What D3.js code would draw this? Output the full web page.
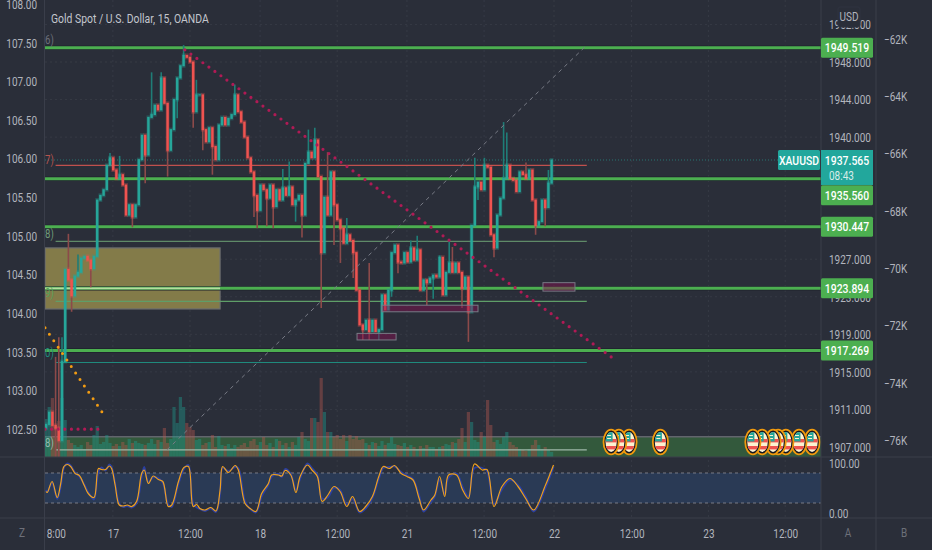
<!DOCTYPE html>
<html>
<head>
<meta charset="utf-8">
<script src="https://cdn.jsdelivr.net/npm/d3@7"></script>
<style>
html,body{margin:0;padding:0;background:#2a2e39}
svg{display:block}
text{font-family:Roboto,"Liberation Sans",sans-serif}
</style>
</head>
<body>
<svg id="chart" width="932" height="550"></svg>
<script>
// gold closes, one per 30 min
const closes = [1909.4,1910.7,1909.3,1909.0,1907.7,1916.1,1925.9,1924.8,1923.1,1925.2,1925.6,1927.1,1927.3,1926.9,1926.0,1927.3,1933.3,1933.8,1934.4,1937.0,
1937.8,1936.5,1935.6,1936.0,1934.9,1931.7,1932.8,1931.5,1932.8,1937.6,1940.2,1938.1,1942.1,1942.4,1943.4,1942.9,1946.3,1943.6,1938.6,1940.8,
1944.0,1946.3,1947.6,1948.7,1948.5,1948.0,1942.7,1944.5,1944.5,1940.8,1939.5,1941.0,1939.0,1937.6,1941.3,1942.1,1941.3,1942.0,1942.4,1944.5,
1942.7,1941.6,1940.0,1937.8,1936.3,1933.8,1932.2,1934.9,1934.4,1933.5,1934.9,1932.6,1934.4,1933.3,1934.6,1933.8,1934.7,1932.8,1933.3,1933.8,
1931.7,1937.2,1938.4,1937.8,1939.7,1935.8,1927.7,1933.6,1931.7,1936.3,1932.8,1931.2,1930.3,1928.7,1929.6,1929.0,1927.7,1923.7,1920.0,1919.5,
1920.5,1919.3,1920.5,1919.3,1919.5,1923.2,1921.6,1923.7,1927.7,1928.5,1926.7,1926.6,1927.7,1926.7,1928.2,1926.9,1928.0,1923.7,1924.8,1924.5,
1925.0,1925.3,1925.1,1927.2,1923.2,1925.6,1926.6,1925.6,1926.6,1925.6,1923.9,1925.1,1921.4,1930.6,1934.7,1935.2,1934.4,1937.0,1936.8,1929.6,
1928.2,1931.7,1933.5,1935.6,1937.0,1935.6,1935.4,1934.2,1936.3,1936.0,1935.6,1936.5,1933.3,1930.6,1931.0,1933.3,1932.5,1935.1,1937.565]
const wickBars = [3,3,4,4,5,7,8,20,27,31,33,36,38,46,47,49,52,59,66,71,76,80,82,84,86,88,92,94,99,101,101,104,110,114,119,123,126,130,132,134,135,137,140,143,144,153,10,14,23,41,43,60,65,69,74,78,90,96,108,116,121,127,145,150,156,157]
const wickEnds = [1916.6,1905.9,1918.7,1905.9,1918.7,1929.7,1921.4,1938.3,1930.4,1935.1,1946.9,1946.9,1935.8,1941.0,1946.1,1938.6,1936.0,1945.6,1930.3,1930.3,1937.4,1929.3,1940.8,1941.0,1921.8,1938.4,1926.6,1931.4,1918.4,1926.6,1918.4,1918.4,1925.5,1929.0,1922.1,1927.4,1929.0,1921.8,1918.2,1937.8,1933.3,1937.8,1927.2,1941.6,1940.5,1929.6,1927.5,1924,1938,1942,1949.8,1944.5,1931.5,1930.5,1936.6,1931,1928.5,1925,1923,1929.5,1922.8,1928.3,1936.7,1937.3,1930.5,1936.5]
const volumes = [38,50,59,30,36,59,37,17,14,12,10,12,8,15,12,22,31,13,15,22,14,11,13,11,15,12,18,14,16,14,13,12,14,18,13,17,15,29,14,18,
50,34,60,50,34,30,27,17,18,12,14,15,22,10,21,12,11,13,9,12,10,12,14,10,16,18,12,15,20,12,14,10,18,16,12,14,10,15,12,20,
25,18,16,39,39,35,79,45,25,25,20,22,18,22,16,22,18,21,17,18,14,12,15,14,11,16,12,14,20,13,12,11,14,10,12,10,8,11,9,12,
10,10,8,10,11,13,12,15,14,18,29,15,45,35,17,15,25,20,57,32,15,17,13,20,25,15,12,10,8,7,6,8,12,17,12,8,10,7,5]

const stochBars = [0,.4,1.9,3.5,4.6,5.6,6.7,7.7,9.1,10.4,11.9,13.2,15,16.4,17.4,18.6,19.8,20.5,21.6,22.9,24.2,25.4,26.8,28.3,29.9,30.7,32,33.5,35.1,36.5,38.2,39.3,41.4,43.1,44.5,46,47.1,48.1,49.7,51.5,53.1,54.4,55.2,57,59.1,60.1,62.2,63.8,65.6,67.4,69.5,70.5,72.6,73.7,74.7,76.5,78.1,79.4,81.7,83.1,84.8,86.3,88.1,90,91.9,94,95.8,98,99.9,102,104,105.4,107.3,108.9,111,112.8,114.7,116.6,118,120.3,121.5,123,124.6,125.8,128.3,130.2,132,133.9,136.3,137.8,140,142.5,145,147.5,149.9,152.4,156.1,158.6]
const stochK = [43,41,63,31,59,93,97,93,79,75,56,39,31,89,87,87,94,89,56,16,14,16,13,23,79,86,59,74,67,63,13,16,63,91,93,13,17,9,6,11,4,46,93,81,95,86,19,9,3,39,59,76,76,74,85,76,41,73,96,86,73,23,36,53,43,13,33,3,13,33,73,93,89,95,79,73,66,29,6,26,36,73,33,76,76,46,29,98,86,87,13,53,69,53,29,6,56,96]
const stochD = [46,42,60,28,52,90,99,95,81,73,58,42,27,82,91,85,97,92,60,19,12,14,11,19,72,92,62,71,70,60,17,12,58,88,96,18,11,8,4,9,2,38,90,84,92,90,24,8,1,33,56,72,78,72,88,78,46,68,99,90,76,29,31,50,46,17,28,1,9,30,68,90,92,93,82,75,68,35,3,22,33,66,38,70,79,52,33,90,90,84,18,47,66,56,33,3,50,92]
const stochTicks = [0,100]
const stochBand = [20,80]

const leftTicks = [108,107.5,107,106.5,106,105.5,105,104.5,104,103.5,103,102.5]
const goldTicks = [1907,1911,1915,1919,1923,1927,1940,1944,1948,1952]
const thirdTicks = [-62,-64,-66,-68,-70,-72,-74,-76]
const timeBars = [2.2,20.9,45,66.9,91,112.8,136.9,158.75,183,207,231]
const timeLabels = ['18:00','17','12:00','18','12:00','21','12:00','22','12:00','23','12:00']

const levels = [1949.519,1935.56,1930.447,1923.894,1917.269]
const lastPrice = 1937.565
const thinPrices = [1937.0,1928.9,1922.5,1916.0,1906.7]
const thinColors = ['#c0504d','#5f8a68','#5f9e68','#1f8a7d','#9fb8a8']
const yellowBox = [-.3,54.4,1928.2,1921.7]
const zoneBoxes = [[97.2,109.4,1919.1,1918.4],[105,135,1922.1,1921.4],[155.3,165.3,1924.5,1923.6]]
const bandPrice = 1908.1
const crimsonLine = [[43.4,1949.3],[177.8,1916.3]]
const orangeLine = [[-.3,1919.7],[18.75,1910.1]]
const crimsonFlat = [[-.3,1908.9],[17.8,1908.9]]
const greyLine = [[37.8,1906.7],[168.4,1949.6]]
const flagBars = [176.6,179,182.2,192,220.9,223.8,227.2,228.8,231.2,235.3,239.4]
const edgeNotes = ['6)','7)','8)','9)','0)','8)']
const edgeNotePrices = [1950.3,1937.6,1929.7,1923.4,1917.0,1907.4]
const edgeNoteColors = ['#6d7079','#b5544f','#6f9a78','#55a05a','#1f8a7d','#8fb8b0']

const svg = d3.select('#chart')
const W = 932, H = 550, paneL = 45, paneR = 821, axis2 = 876, priceB = 457, stochB = 518
const textCol = '#b2b5be', sepCol = '#3a3e4a', gridCol = '#363a45', up = '#26a69a', down = '#ef5350'
const squeeze = .8

const x = d3.scaleLinear().domain([0,240]).range([46,814])
const gold = d3.scaleLinear().domain([1907,1948]).range([447,62])
const left = d3.scaleLinear().domain([102.5,108]).range([429,4])
const third = d3.scaleLinear().domain([-76,-62]).range([440,39])
const stoch = d3.scaleLinear().domain([0,100]).range([513,463])
const vol = d3.scaleLinear().domain([0,80]).range([priceB,priceB-80])

svg.append('rect').attr('width',W).attr('height',H).attr('fill','#2a2e39')
const defs = svg.append('defs')
defs.append('clipPath').attr('id','pane').append('rect').attr('x',paneL).attr('y',0).attr('width',paneR-paneL).attr('height',priceB)
defs.append('clipPath').attr('id','timeClip').append('rect').attr('x',paneL).attr('y',stochB).attr('width',W).attr('height',H-stochB)
defs.append('clipPath').attr('id','flagClip').append('ellipse').attr('rx',5.6).attr('ry',10)

// grid
const grid = svg.append('g').attr('stroke',gridCol).attr('stroke-dasharray','2,3')
grid.selectAll('.v').data(timeBars.slice(1)).enter().append('line').attr('x1',d => x(d)).attr('x2',d => x(d)).attr('y1',0).attr('y2',stochB)
grid.selectAll('.h').data(goldTicks).enter().append('line').attr('x1',paneL).attr('x2',paneR).attr('y1',d => gold(d)).attr('y2',d => gold(d))

const pane = svg.append('g').attr('clip-path','url(#pane)')

// green band at the bottom of the price pane and the yellow box
pane.append('rect').attr('x',paneL).attr('width',paneR-paneL).attr('y',gold(bandPrice)).attr('height',priceB-gold(bandPrice)).attr('fill','#33593c')
pane.append('line').attr('x1',paneL).attr('x2',paneR).attr('y1',gold(bandPrice)).attr('y2',gold(bandPrice)).attr('stroke','#62656d').attr('stroke-width',1.5)
pane.append('rect').attr('x',x(yellowBox[0])).attr('width',x(yellowBox[1])-x(yellowBox[0])).attr('y',gold(yellowBox[2])).attr('height',gold(yellowBox[3])-gold(yellowBox[2]))
  .attr('fill','#837b49').attr('stroke','#6b6d70').attr('stroke-width',1.2)

// volume
pane.selectAll('.vol').data(volumes).enter().append('rect')
  .attr('x',(d,i) => x(i)-1.6).attr('width',3.2).attr('y',d => vol(d)).attr('height',d => priceB-vol(d))
  .attr('fill',(d,i) => closes[i] >= (i ? closes[i-1] : closes[0]) ? '#1f9a8c' : '#b5584f').attr('opacity',.42)

// thin lines that stop at the end of the tool
pane.selectAll('.thin').data(thinPrices).enter().append('line')
  .attr('x1',x(3)).attr('x2',x(169)).attr('y1',d => gold(d)).attr('y2',d => gold(d))
  .attr('stroke',(d,i) => thinColors[i]).attr('stroke-width',1.2)

// levels
pane.selectAll('.levelEdge').data(levels).enter().append('line')
  .attr('x1',paneL).attr('x2',paneR).attr('y1',d => gold(d)).attr('y2',d => gold(d))
  .attr('stroke','#1e222d').attr('stroke-width',4.4)
pane.selectAll('.level').data(levels).enter().append('line')
  .attr('x1',paneL).attr('x2',paneR).attr('y1',d => gold(d)).attr('y2',d => gold(d))
  .attr('stroke','#4caf50').attr('stroke-width',3)
pane.append('line').attr('x1',x(yellowBox[0])).attr('x2',x(yellowBox[1])).attr('y1',gold(levels[3])).attr('y2',gold(levels[3])).attr('stroke','#b5dca0').attr('stroke-width',1.6)
pane.append('line').attr('x1',paneL).attr('x2',paneR).attr('y1',gold(lastPrice)).attr('y2',gold(lastPrice)).attr('stroke',up).attr('stroke-opacity',.6).attr('stroke-dasharray','1,2')

// candles, with a dim wider copy behind the bodies
pane.selectAll('.wick').data(wickBars).enter().append('line')
  .attr('x1',d => x(d)).attr('x2',d => x(d))
  .attr('y1',(d,i) => gold(wickEnds[i])).attr('y2',d => gold(closes[d]))
  .attr('stroke',(d,i) => closes[d] >= closes[Math.max(d-1,0)] ? '#1f7d77' : '#8c4a4a').attr('stroke-width',1.6)
pane.selectAll('.shade').data(closes).enter().append('rect')
  .attr('x',(d,i) => x(i)-1.9).attr('width',3.8)
  .attr('y',(d,i) => gold(Math.max(d,i ? closes[i-1] : 1909))-2)
  .attr('height',(d,i) => Math.abs(gold(d)-gold(i ? closes[i-1] : 1909))+4)
  .attr('fill',(d,i) => d >= (i ? closes[i-1] : 1909) ? up : down).attr('opacity',.3)
pane.selectAll('.body').data(closes).enter().append('rect')
  .attr('x',(d,i) => x(i)-1.2).attr('width',2.4)
  .attr('y',(d,i) => gold(Math.max(d,i ? closes[i-1] : 1909))-.5)
  .attr('height',(d,i) => Math.abs(gold(d)-gold(i ? closes[i-1] : 1909))+1)
  .attr('fill',(d,i) => d >= (i ? closes[i-1] : 1909) ? up : down)

// zones and drawn trend lines
pane.selectAll('.zone').data(zoneBoxes).enter().append('rect')
  .attr('x',d => x(d[0])).attr('width',d => x(d[1])-x(d[0])).attr('y',d => gold(d[2])).attr('height',d => gold(d[3])-gold(d[2]))
  .attr('fill','#880e4f').attr('fill-opacity',.45).attr('stroke','#787b86').attr('stroke-width',1)
const trend = d3.line().x(d => x(d[0])).y(d => gold(d[1]))
pane.append('path').attr('d',trend(greyLine)).attr('fill','none').attr('stroke','#787b86').attr('stroke-dasharray','4,4')
const dotted = (pts, col, w, gap) => pane.append('path').attr('d',trend(pts)).attr('fill','none').attr('stroke',col)
  .attr('stroke-width',w).attr('stroke-linecap','round').attr('stroke-dasharray',`0,${gap}`)
dotted(crimsonLine,'#b01a55',3.2,7.4)
dotted(crimsonFlat,'#b01a55',3.2,6.6)
dotted(orangeLine,'#f39c12',3,7.8)

// notes left on the pane edge
edgeNotes.forEach((t,i) => pane.append('text').attr('transform',`translate(45,${gold(edgeNotePrices[i])+4}) scale(${squeeze},1)`).attr('font-size',12).attr('fill',edgeNoteColors[i]).text(t))

// flags of the economic events
flagBars.slice().reverse().forEach(b => {
  const f = svg.append('g').attr('transform',`translate(${x(b)},442)`)
  f.append('ellipse').attr('rx',7.6).attr('ry',12.4).attr('fill','#131722').attr('stroke','#f09a0e').attr('stroke-width',1.8)
  const c = f.append('g').attr('clip-path','url(#flagClip)')
  c.append('rect').attr('x',-6).attr('y',-10).attr('width',12).attr('height',20).attr('fill','#fdf2d0')
  ;[-3,4].forEach(y => c.append('rect').attr('x',-6).attr('y',y).attr('width',12).attr('height',3.4).attr('fill','#ef5350'))
  c.append('rect').attr('x',-6).attr('y',-10).attr('width',7.5).attr('height',9.5).attr('fill','#26a69a')
  ;[-7,-4].forEach(y => c.append('rect').attr('x',-4).attr('y',y).attr('width',4).attr('height',1).attr('fill','#fdf2d0'))
})

// stochastic pane
svg.append('rect').attr('x',paneL).attr('width',paneR-paneL).attr('y',stoch(stochBand[1])).attr('height',stoch(stochBand[0])-stoch(stochBand[1])).attr('fill','#2a3a55')
svg.selectAll('.bandLine').data(stochBand).enter().append('line').attr('x1',paneL).attr('x2',paneR).attr('y1',d => stoch(d)).attr('y2',d => stoch(d)).attr('stroke','#787b86').attr('stroke-dasharray','3,3')
const stochLine = v => d3.line().x((d,i) => x(d)).y((d,i) => stoch(v[i])).curve(d3.curveCatmullRom)(stochBars)
svg.append('path').attr('d',stochLine(stochD)).attr('fill','none').attr('stroke','#2a3fa0').attr('stroke-width',1.8)
svg.append('path').attr('d',stochLine(stochK)).attr('fill','none').attr('stroke','#f0a01e').attr('stroke-width',1.2)

// separators
const seps = svg.append('g').attr('stroke',sepCol)
seps.append('line').attr('x1',paneL-.5).attr('x2',paneL-.5).attr('y1',0).attr('y2',H)
seps.append('line').attr('x1',paneR).attr('x2',paneR).attr('y1',0).attr('y2',H)
seps.append('line').attr('x1',axis2).attr('x2',axis2).attr('y1',0).attr('y2',H)
seps.append('line').attr('x1',0).attr('x2',W).attr('y1',priceB).attr('y2',priceB)
seps.append('line').attr('x1',0).attr('x2',W).attr('y1',stochB).attr('y2',stochB)

// axes, the narrow glyphs are a horizontal squeeze on the tick text
function styleAxis(g, dx, dy) {
  g.select('.domain').remove()
  g.selectAll('line').remove()
  g.selectAll('text').attr('x',0).attr('y',0).attr('dy','.35em').attr('transform',`translate(${dx},${dy}) scale(${squeeze},1)`)
    .attr('fill',textCol).attr('font-size',12.5).attr('font-family','Roboto')
}
svg.append('g').attr('transform',`translate(${paneL},0)`).call(d3.axisLeft(left).tickValues(leftTicks).tickFormat(d3.format('.2f'))).call(styleAxis,-8,0)
svg.append('g').attr('transform',`translate(${paneR},0)`).call(d3.axisRight(gold).tickValues(goldTicks).tickFormat(d3.format('.3f'))).call(styleAxis,8,0)
svg.append('g').attr('transform',`translate(${axis2},0)`).call(d3.axisRight(third).tickValues(thirdTicks).tickFormat(d => '\u2212'+Math.abs(d)+'K')).call(styleAxis,8,0)
svg.append('g').attr('transform',`translate(${paneR},0)`).call(d3.axisRight(stoch).tickValues(stochTicks).tickFormat(d3.format('.2f'))).call(styleAxis,8,0)
svg.append('g').attr('clip-path','url(#timeClip)').append('g').attr('transform',`translate(0,${stochB})`)
  .call(d3.axisBottom(x).tickValues(timeBars).tickFormat((d,i) => timeLabels[i])).call(styleAxis,0,16)

function label(tx, ty, str, anchor, fill, size) {
  return svg.append('text').attr('transform',`translate(${tx},${ty}) scale(${squeeze},1)`).attr('text-anchor',anchor).attr('dy','.35em')
    .attr('fill',fill).attr('font-size',size).text(str)
}
label(51,18,'Gold Spot / U.S. Dollar, 15, OANDA','start','#c3c6ce',13)
label(22,533,'Z','middle','#6d7079',12.5)
label(848,533,'A','middle','#6d7079',12.5)
label(904,533,'B','middle','#6d7079',12.5)

// price tags
svg.append('rect').attr('x',838).attr('y',7).attr('width',22).attr('height',20).attr('rx',2).attr('fill','#2a2e39').attr('stroke','#2f3340')
label(849,17,'USD','middle',textCol,12.5)
const tagH = 20
levels.forEach(l => {
  const cy = l === 1935.56 ? gold(l)+16.5 : gold(l)
  svg.append('rect').attr('x',paneR).attr('y',cy-tagH/2).attr('width',52).attr('height',tagH).attr('rx',1.5).attr('fill','#4caf50')
  label(paneR+26,cy,d3.format('.3f')(l),'middle','#ffffff',13).attr('font-weight',500)
})
svg.append('rect').attr('x',778).attr('y',gold(lastPrice)-10).attr('width',42).attr('height',20).attr('rx',1.5).attr('fill','#22a79c')
label(799,gold(lastPrice),'XAUUSD','middle','#ffffff',13).attr('font-weight',500)
svg.append('rect').attr('x',paneR).attr('y',gold(lastPrice)-10).attr('width',52).attr('height',35).attr('fill','#22a79c')
label(paneR+26,gold(lastPrice),d3.format('.3f')(lastPrice),'middle','#ffffff',13).attr('font-weight',500)
label(paneR+8,gold(lastPrice)+16,'08:43','start','#d6ece9',12.5)
</script>
</body>
</html>
